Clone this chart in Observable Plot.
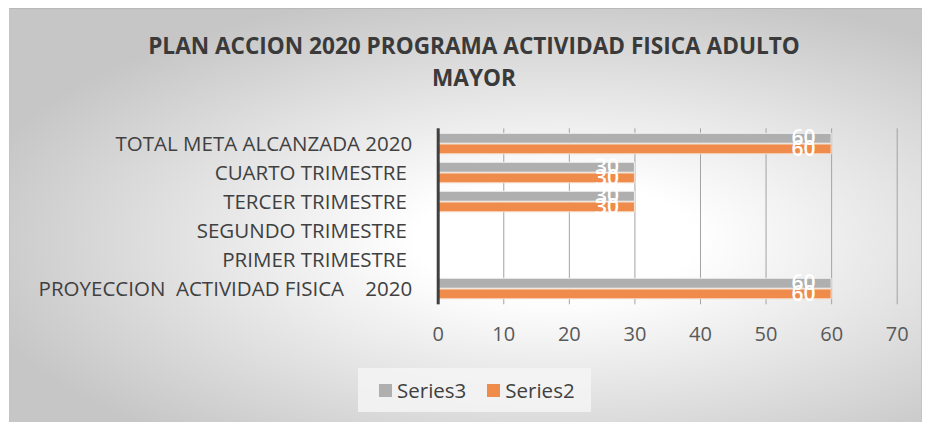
<!DOCTYPE html>
<html>
<head>
<meta charset="utf-8">
<script src="https://cdn.jsdelivr.net/npm/d3@7"></script>
<script src="https://cdn.jsdelivr.net/npm/@observablehq/plot@0.6"></script>
<style>
  html, body { margin: 0; padding: 0; background: #fff; }
  #chart { position: relative; width: 925px; height: 422px; overflow: hidden; font-family: "Open Sans", sans-serif; }
  #frame { position: absolute; left: 9px; top: 8px; width: 913px; height: 414px;
    border-top: 1px solid #b8b8b8; border-left: 1px solid #c4c4c4; border-right: 1px solid #c4c4c4;
    background: radial-gradient(ellipse farthest-corner at 60% 56%, #ffffff 18%, #c6c6c6 78%); box-sizing: border-box; }
  #title { position: absolute; left: 0; top: 30px; width: 948px; text-align: center; font-weight: 700;
    font-size: 22.6px; line-height: 32px; color: #3a3a3a; }
  #plot { position: absolute; left: 0; top: 0; }
  #plot svg text { white-space: pre; }
  #legend { position: absolute; left: 358px; top: 368px; width: 233px; height: 44px; background: rgba(244,244,244,0.85);
    display: flex; align-items: center; font-size: 20.5px; color: #404040; }
  .item { display: flex; align-items: center; }
  .sw { width: 13px; height: 13px; display: inline-block; margin-right: 5px; }
</style>
</head>
<body>
<div id="chart">
  <div id="frame"></div>
  <div id="title">PLAN ACCION 2020 PROGRAMA ACTIVIDAD FISICA ADULTO<br>MAYOR</div>
  <div id="plot"></div>
  <div id="legend"></div>
</div>
<script>
const categories = [
  "TOTAL META ALCANZADA 2020",
  "CUARTO TRIMESTRE ",
  "TERCER TRIMESTRE ",
  "SEGUNDO TRIMESTRE ",
  "PRIMER TRIMESTRE ",
  "PROYECCION  ACTIVIDAD FISICA    2020"
];
const seriesNames = ["Series3", "Series2"];
const series3 = [60, 30, 30, null, null, 60];
const series2 = [60, 30, 30, null, null, 60];
const xTicks = [0, 10, 20, 30, 40, 50, 60, 70];
const colors = { Series3: "#afafaf", Series2: "#ef8c4b" };

const rows3 = categories.map((c, i) => ({ category: c, series: "Series3", value: series3[i] })).filter(d => d.value != null);
const rows2 = categories.map((c, i) => ({ category: c, series: "Series2", value: series2[i] })).filter(d => d.value != null);

const chart = Plot.plot({
  width: 925,
  height: 422,
  marginLeft: 437.7,
  marginRight: 28.3,
  marginTop: 128.3,
  marginBottom: 117.7,
  style: { background: "transparent", fontFamily: "Open Sans, sans-serif", overflow: "visible" },
  x: { domain: [0, 70] },
  y: { domain: categories, padding: 0 },
  marks: [
    Plot.gridX(xTicks, { stroke: "#a3a3a3", strokeOpacity: 1, strokeWidth: 1 }),
    Plot.barX(rows3, { x: "value", y: "category", fill: colors.Series3, stroke: "#eeeeee", strokeWidth: 1, insetTop: 4.3, insetBottom: 14.8 }),
    Plot.barX(rows2, { x: "value", y: "category", fill: colors.Series2, stroke: "#f6e0d0", strokeWidth: 1, insetTop: 15, insetBottom: 4.2 }),
    Plot.text(rows3, { x: "value", y: "category", text: d => String(d.value), fill: "white", fontSize: 21, fontWeight: 600, textAnchor: "end", dx: -16, dy: -6 }),
    Plot.text(rows2, { x: "value", y: "category", text: d => String(d.value), fill: "white", fontSize: 21, fontWeight: 600, textAnchor: "end", dx: -16, dy: 5 }),
    Plot.axisX(xTicks, { tickSize: 0, tickPadding: 22, fontSize: 20, fill: "#595959", label: null }),
    Plot.axisY({ tickSize: 0, tickPadding: 26, fontSize: 20.5, fill: "#404040", label: null, style: "letter-spacing:0.9px" }),
    Plot.ruleX([0], { stroke: "#404040", strokeWidth: 3 })
  ]
});
document.getElementById("plot").appendChild(chart);

const legend = document.getElementById("legend");
seriesNames.forEach((name, i) => {
  const it = document.createElement("div");
  it.className = "item";
  it.style.marginLeft = i === 0 ? "21px" : "21px";
  const sw = document.createElement("span");
  sw.className = "sw";
  sw.style.background = colors[name];
  it.appendChild(sw);
  const t = document.createElement("span");
  t.textContent = name;
  it.appendChild(t);
  legend.appendChild(it);
});
</script>
</body>
</html>
